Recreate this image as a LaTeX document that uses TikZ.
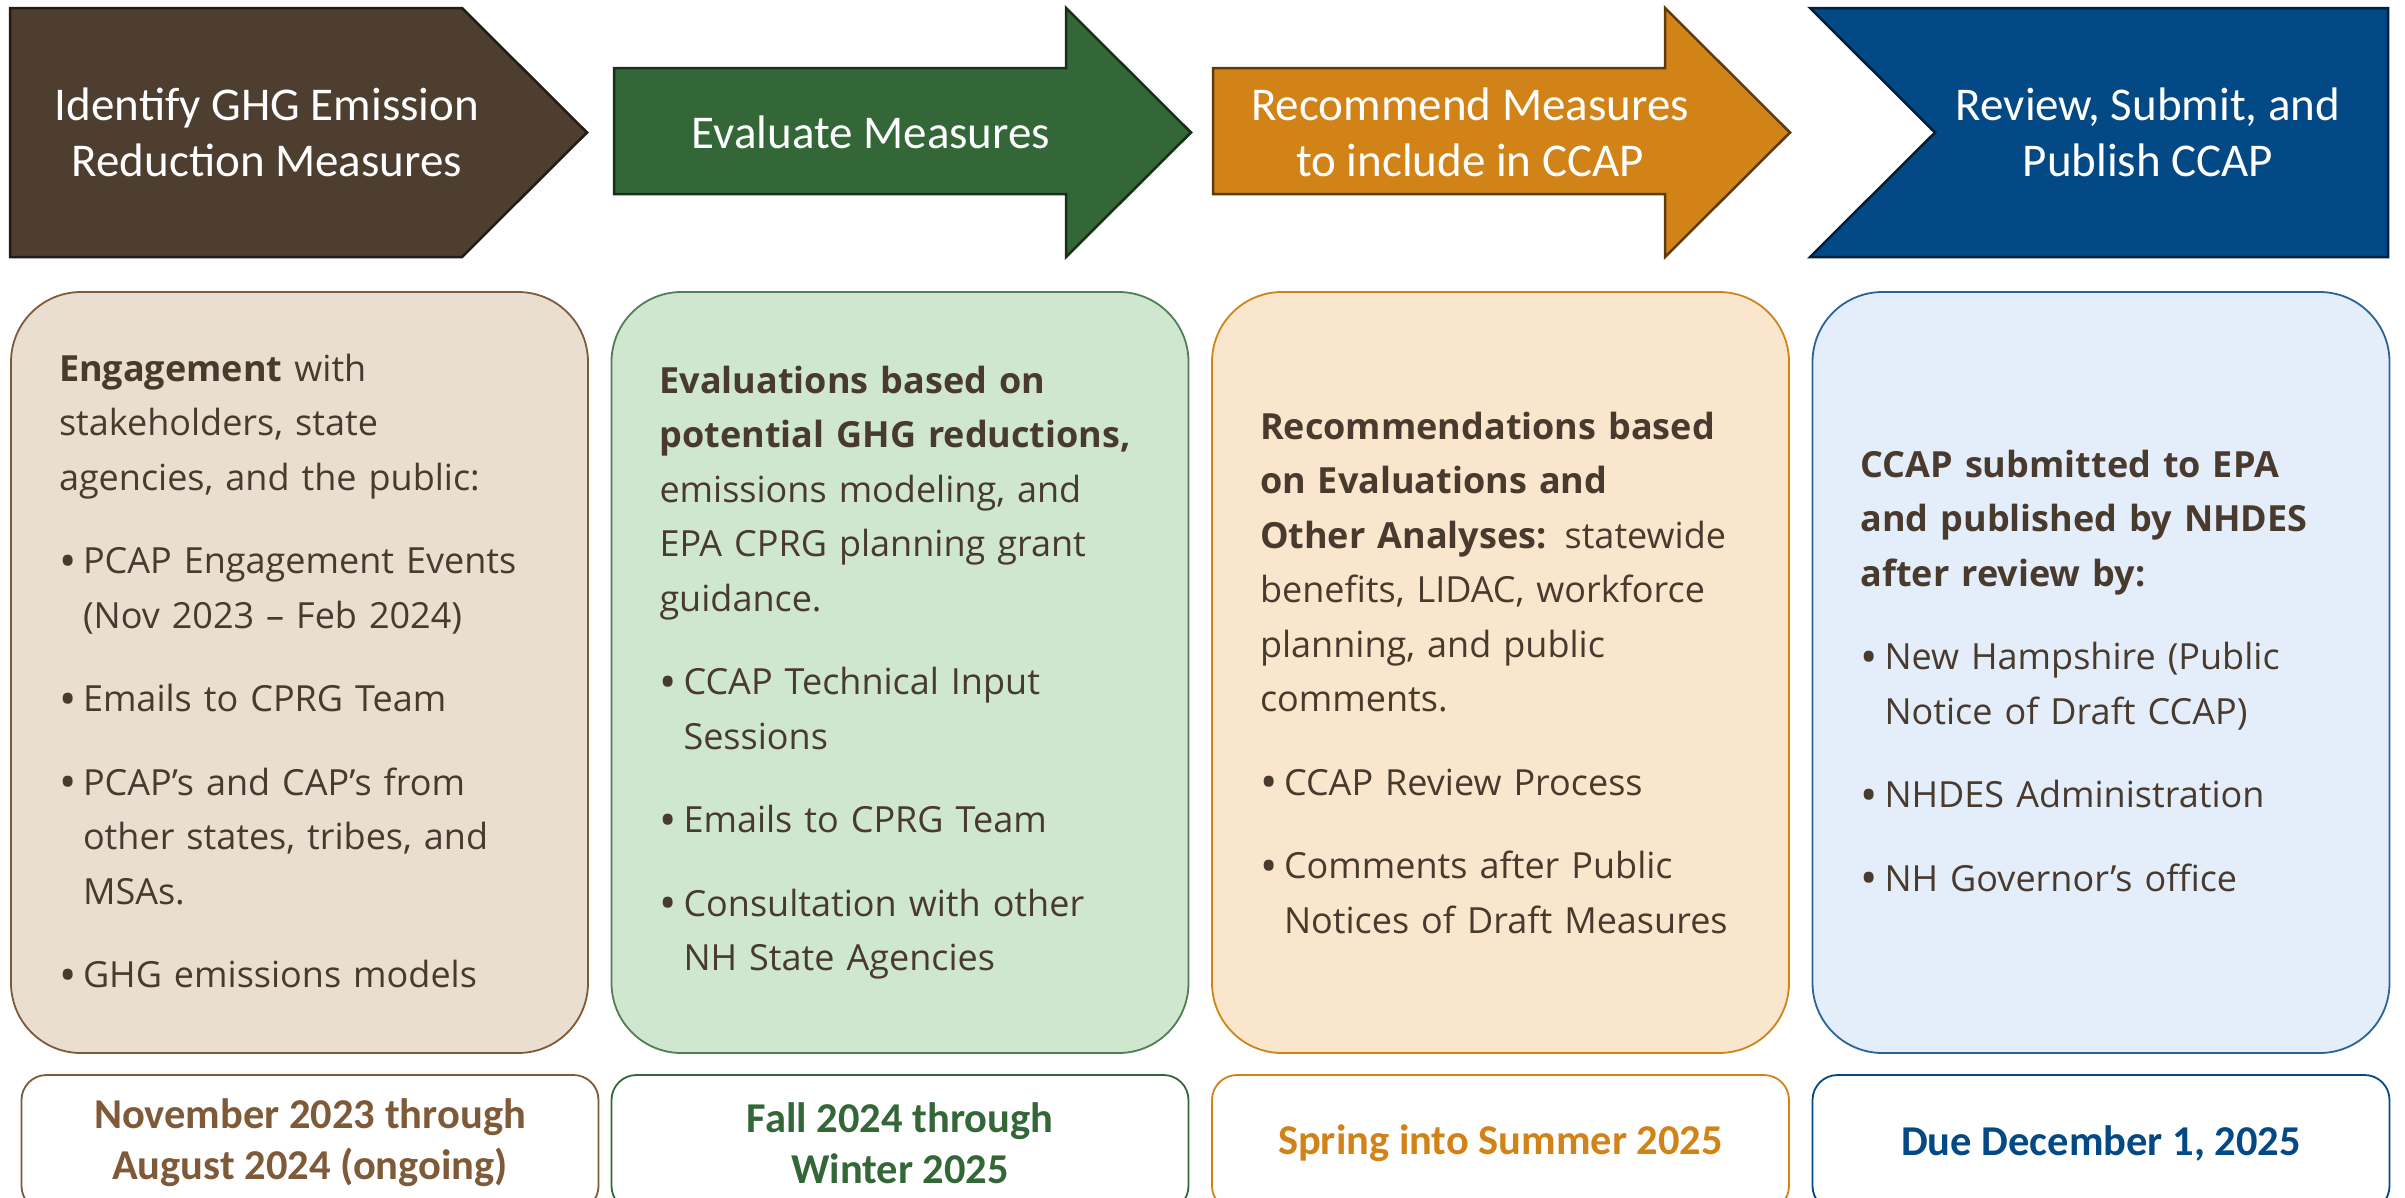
\documentclass[tikz,border=0pt]{standalone}
\usepackage{fontspec}
\setmainfont{Open Sans}
\newfontfamily\calibri{Carlito}
\usepackage{tikz}
\usetikzlibrary{positioning}
\definecolor{identbrown}{RGB}{78,62,48}
\definecolor{evalgreen}{RGB}{51,103,56}
\definecolor{recorange}{RGB}{210,131,24}
\definecolor{pubblue}{RGB}{2,73,134}
\definecolor{identlight}{RGB}{233,222,208}
\definecolor{evallight}{RGB}{207,230,207}
\definecolor{reclight}{RGB}{250,229,205}
\definecolor{publight}{RGB}{227,238,250}
\definecolor{textbrown}{RGB}{73,58,46}
\definecolor{datebrown}{RGB}{126,90,56}
\newcommand{\bitem}[1]{\par\vspace{29pt}\hangindent=24pt\hangafter=1\noindent\makebox[24pt][l]{\raisebox{-3.5pt}{\fontsize{46}{46}\selectfont\textbullet}}#1\par}

\begin{document}
\begin{tikzpicture}[x=1pt, y=-1pt, node distance = 470.5pt and 600.5pt, on grid,
    stepbox/.style={rounded corners=70pt, line width=1.8pt, minimum width=577pt, minimum height=761pt, text width=481pt, inner xsep=48pt, inner ysep=0pt, align=left, text=textbrown, font=\fontsize{36}{54.5}\selectfont},
    datebox/.style={rounded corners=25pt, line width=1.8pt, minimum width=577pt, minimum height=136pt, inner sep=0pt, align=center, font=\calibri\bfseries\fontsize{42.5}{51}\selectfont},
    headtext/.style={text=white, align=center, font=\calibri\fontsize{47}{56}\selectfont},
    headshape/.style={line width=2.5pt, line join=miter}]
    \useasboundingbox (0,0) rectangle (2405,1197);
    % arrows on top
    \filldraw [headshape, fill=identbrown, draw=identbrown!45!black] (10,8) -- (462,8) -- (587,132.5) -- (462,257) -- (10,257) -- cycle;
    \filldraw [headshape, fill=evalgreen, draw=evalgreen!45!black] (614,68) -- (1066,68) -- (1066,8) -- (1191,132.5) -- (1066,257) -- (1066,194) -- (614,194) -- cycle;
    \filldraw [headshape, fill=recorange, draw=recorange!45!black] (1213,68) -- (1665,68) -- (1665,8) -- (1790,132.5) -- (1665,257) -- (1665,194) -- (1213,194) -- cycle;
    \filldraw [headshape, fill=pubblue, draw=pubblue!45!black] (1810,8) -- (2388,8) -- (2388,257) -- (1810,257) -- (1935,132.5) -- cycle;
    \node [headtext] (T1) at (267,132.5) {Identify GHG Emission\\Reduction Measures};
    \node [headtext] (T2) at (871,132.5) {Evaluate Measures};
    \node [headtext] (T3) at (1470,132.5) {Recommend Measures\\to include in CCAP};
    \node [headtext] (T4) at (2148,132.5) {Review, Submit, and\\Publish CCAP};
    % boxes
    \node [stepbox, fill=identlight, draw=datebrown] (B1) at (299.5,672.5) {\textbf{Engagement} with\\stakeholders, state\\agencies, and the public:
        \bitem{PCAP Engagement Events\newline(Nov 2023 – Feb 2024)}
        \bitem{Emails to CPRG Team}
        \bitem{PCAP’s and CAP’s from\newline other states, tribes, and\newline MSAs.}
        \bitem{GHG emissions models}};
    \node [stepbox, fill=evallight, draw=evalgreen!85] (B2) [right =of B1] {\textbf{Evaluations based on}\\\textbf{potential GHG reductions,}\\emissions modeling, and\\EPA CPRG planning grant\\guidance.
        \bitem{CCAP Technical Input\newline Sessions}
        \bitem{Emails to CPRG Team}
        \bitem{Consultation with other\newline NH State Agencies}};
    \node [stepbox, fill=reclight, draw=recorange] (B3) [right =of B2] {\textbf{Recommendations based}\\\textbf{on Evaluations and}\\\textbf{Other Analyses:} statewide\\benefits, LIDAC, workforce\\planning, and public\\comments.
        \bitem{CCAP Review Process}
        \bitem{Comments after Public\newline Notices of Draft Measures}};
    \node [stepbox, fill=publight, draw=pubblue!85] (B4) [right =of B3] {\textbf{CCAP submitted to EPA}\\\textbf{and published by NHDES}\\\textbf{after review by:}
        \bitem{New Hampshire (Public\newline Notice of Draft CCAP)}
        \bitem{NHDES Administration}
        \bitem{NH Governor’s office}};
    % dates
    \node [datebox, draw=datebrown, text=datebrown] (D1) [below =of B1, xshift=10.5pt] {November 2023 through\\August 2024 (ongoing)};
    \node [datebox, draw=evalgreen, text=evalgreen] (D2) [below =of B2] {Fall 2024 through\\Winter 2025};
    \node [datebox, draw=recorange, text=recorange] (D3) [below =of B3] {Spring into Summer 2025};
    \node [datebox, draw=pubblue, text=pubblue] (D4) [below =of B4] {Due December 1, 2025};
\end{tikzpicture}
\end{document}
